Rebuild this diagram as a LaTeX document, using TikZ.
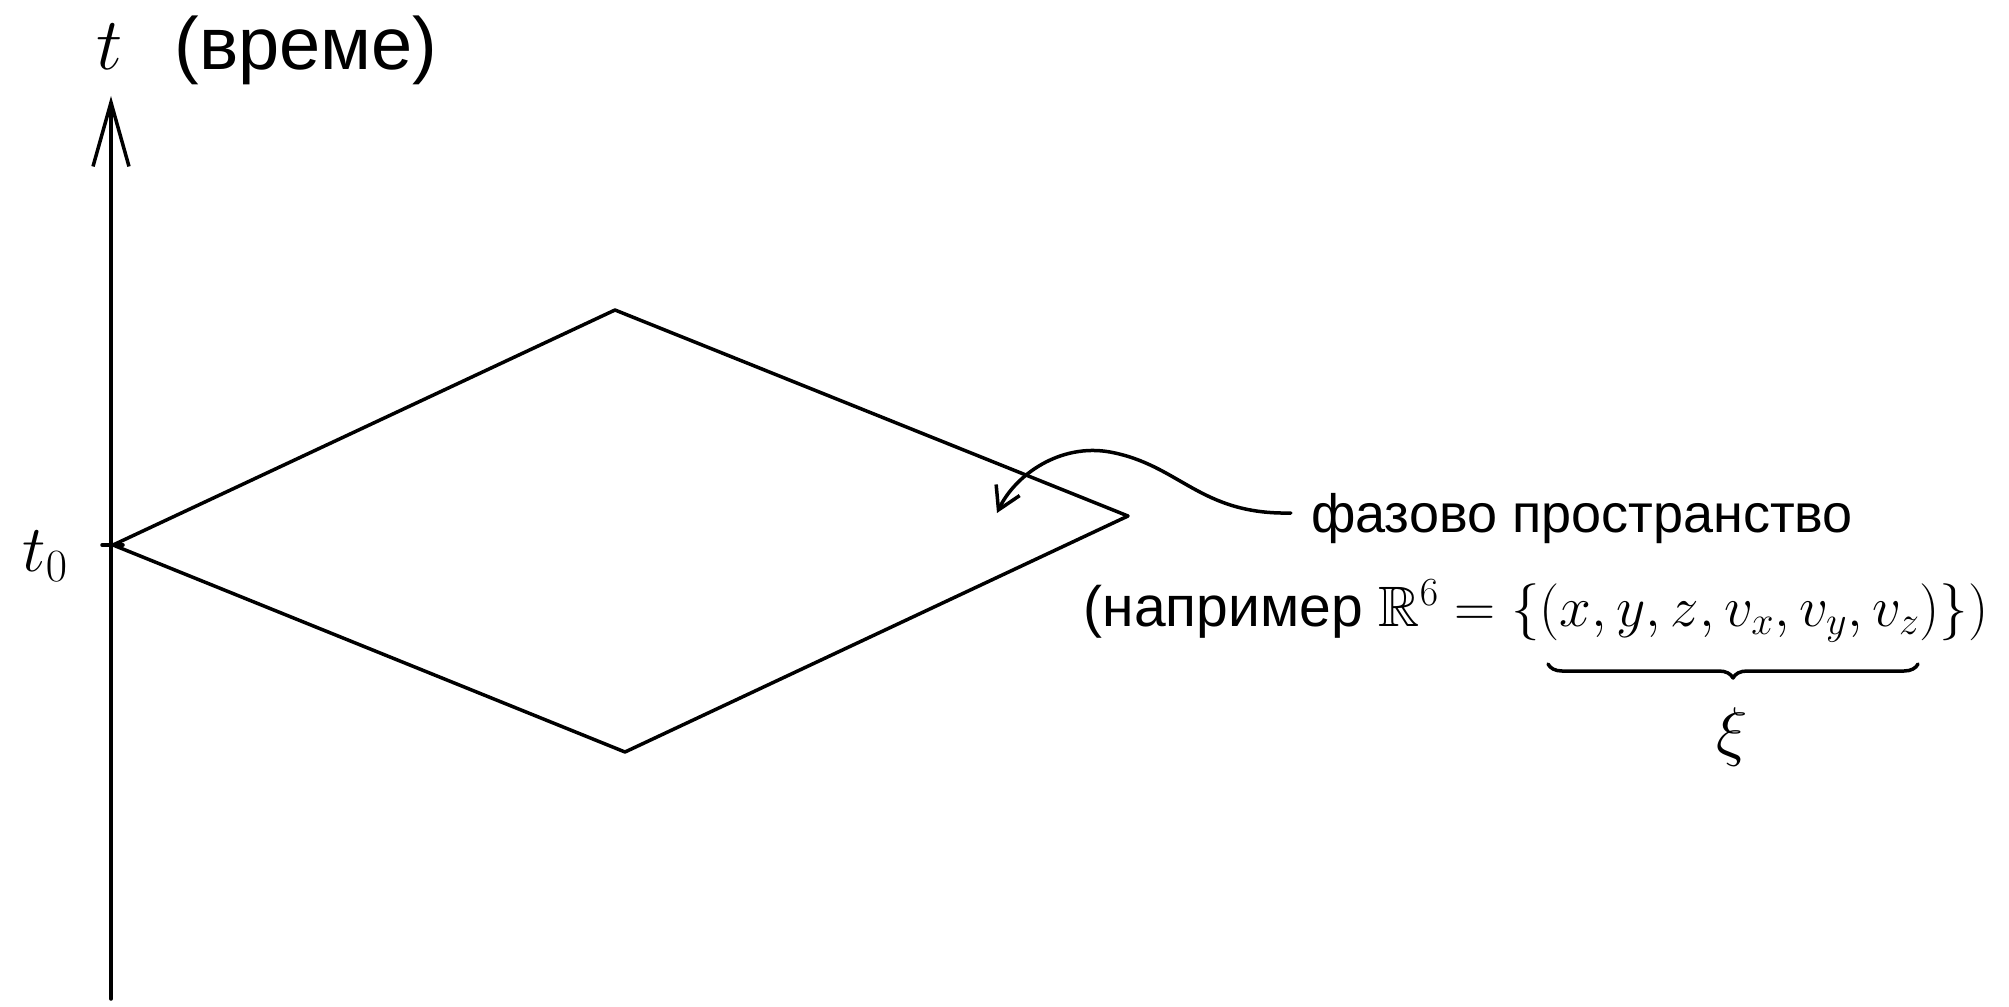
\RequirePackage{fix-cm}
\documentclass[tikz,border=0pt]{standalone}
\usepackage{amssymb}
\usepackage{fontspec}
\setmainfont{Liberation Sans}
\usetikzlibrary{decorations.pathreplacing,arrows.meta}
\begin{document}
\begin{tikzpicture}[x=1pt,y=-1pt,
  stroke/.style={line width=3.5pt,line cap=round,line join=round},
  lbl/.style={inner sep=0pt,font=\fontsize{54}{62}\selectfont},
  exlbl/.style={inner sep=0pt,font=\fontsize{57}{65}\selectfont},
  biglbl/.style={inner sep=0pt,font=\fontsize{66}{74}\selectfont},
  titlelbl/.style={inner sep=0pt,font=\fontsize{74}{82}\selectfont}]
\useasboundingbox (0,0) rectangle (2009,1006);
% time axis
\coordinate (axb) at (111,999);
\coordinate (axt) at (111,96);
\draw[stroke,-{Straight Barb[length=64pt,width=36pt]}] (axb) -- (axt);
\node[titlelbl] (title) at (267,50) {$t$\hspace{0.7em}(време)};
% t0
\coordinate (t0) at (111,545);
\coordinate (tickl) at (102,545);
\coordinate (tickr) at (123,545);
\draw[stroke] (tickl) -- (tickr);
\node[biglbl] (t0lbl) at (45,556) {$t_0$};
% phase space
\coordinate (L) at (113,545);
\coordinate (T) at (615,310);
\coordinate (R) at (1128,516);
\coordinate (B) at (625,752);
\draw[stroke] (L) -- (T) -- (R) -- (B) -- cycle;
% labels
\node[lbl] (ps) at (1582,519) {фазово пространство};
\node[exlbl] (ex) at (1536,611) {(например $\mathbb{R}^6=\{(x,y,z,v_x,v_y,v_z)\})$};
\coordinate (tip) at (997,513);
\draw[stroke,-{Straight Barb[length=22pt,width=26pt]}] (ps.west) ++(-20,-6) coordinate (cs)
  .. controls (1200,515) and (1180,465) .. (1110,452)
  .. controls (1060,443) and (1015,475) .. (tip);
% brace
\coordinate (bl) at (1548,664);
\coordinate (br) at (1918,664);
\draw[stroke,decorate,decoration={brace,mirror,amplitude=14pt}] (bl) -- (br);
\node[biglbl] (xi) at (1732,737) {$\xi$};
\end{tikzpicture}
\end{document}
